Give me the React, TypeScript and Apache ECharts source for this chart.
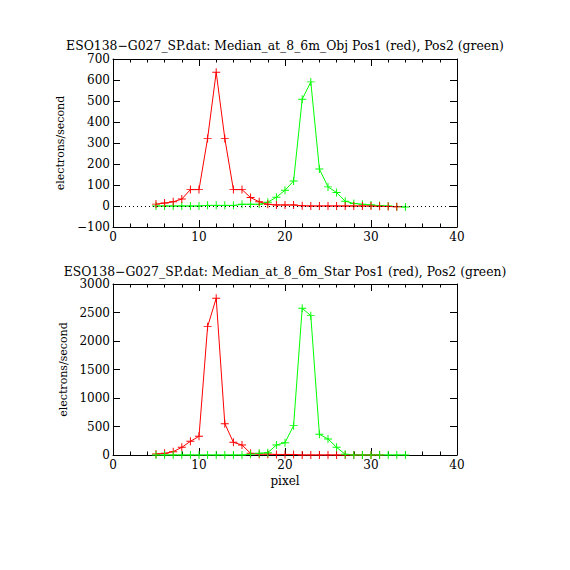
import React, { useEffect, useRef } from "react";
import * as echarts from "echarts";

const objRedX = [5, 6, 7, 8, 9, 10, 11, 12, 13, 14, 15, 16, 17, 18, 19, 20, 21, 22, 23, 24, 25, 26, 27, 28, 29, 30, 31, 32, 33];
const objRedY = [9, 14, 20, 33, 78, 78, 322, 637, 322, 78, 78, 40, 20, 8, 5, 5, 5, 1, 0, 0, 0, 0, 0, 0, 0, 0, -1, -2, -4];
const objGreenX = [5, 6, 7, 8, 9, 10, 11, 12, 13, 14, 15, 16, 17, 18, 19, 20, 21, 22, 23, 24, 25, 26, 27, 28, 29, 30, 31, 32, 33, 34];
const objGreenY = [0, 0, 0, 0, 0, 0, 3, 3, 3, 3, 8, 8, 8, 18, 42, 75, 119, 508, 591, 176, 91, 64, 23, 12, 8, 5, 2, 0, -3, -5];

const starRedX = [5, 6, 7, 8, 9, 10, 11, 12, 13, 14, 15, 16, 17, 18, 19, 20, 21, 22, 23, 24, 25, 26, 27, 28, 29, 30, 31];
const starRedY = [18, 29, 58, 135, 240, 328, 2252, 2750, 550, 222, 175, 29, 15, 15, 10, 10, 10, 0, 0, 0, 0, 0, 0, 0, 0, 0, 0];
const starGreenX = [5, 6, 7, 8, 9, 10, 11, 12, 13, 14, 15, 16, 17, 18, 19, 20, 21, 22, 23, 24, 25, 26, 27, 28, 29, 30, 31, 32, 33, 34];
const starGreenY = [0, 0, 0, 0, 0, 0, 0, 0, 0, 0, 0, 15, 29, 41, 175, 216, 515, 2574, 2445, 363, 281, 135, 12, 0, 0, 0, 0, 0, 0, 0];

const titles = [
  "ESO138\u2212G027_SP.dat: Median_at_8_6m_Obj Pos1 (red), Pos2 (green)",
  "ESO138\u2212G027_SP.dat: Median_at_8_6m_Star Pos1 (red), Pos2 (green)",
];
const xTitle = "pixel";
const yTitle = "electrons/second";

const FONT = "DejaVu Serif";
const PLUS = "path://M-0.6,-5H0.6V-0.6H5V0.6H0.6V5H-0.6V0.6H-5V-0.6H-0.6Z";

function pairs(xs: number[], ys: number[]) {
  return xs.map((x, i) => [x, ys[i]]);
}

const fmt = (v: number) => String(v).replace("-", "\u2212");

export default function App() {
  const ref = useRef<HTMLDivElement>(null);
  useEffect(() => {
    if (!ref.current) return;
    const chart = echarts.init(ref.current, null, { renderer: "svg" });
    const txt = { fontFamily: FONT, fontSize: 12, color: "#000" };
    const nameTxt = { fontFamily: FONT, fontSize: 11, color: "#000" };
    const ttl = { fontFamily: FONT, fontSize: 12.4, color: "#000", fontWeight: "normal" };
    const grids = [
      { left: 113, width: 344, top: 59, height: 168 },
      { left: 113, width: 344, top: 284, height: 171 },
    ];
    const xBase = (g: number, pos: "bottom" | "top") => ({
      type: "value",
      gridIndex: g,
      position: pos,
      min: 0,
      max: 40,
      interval: 10,
      axisLine: { show: true, onZero: false, lineStyle: { color: "#000", width: 1 } },
      axisTick: { show: true, inside: true, length: 7, lineStyle: { color: "#000" } },
      minorTick: { show: true, splitNumber: 5, length: 3.5, lineStyle: { color: "#000" } },
      splitLine: { show: false },
      axisLabel: pos === "bottom" ? { ...txt, margin: 4, formatter: fmt } : { show: false },
    });
    const yBase = (g: number, pos: "left" | "right", min: number, max: number, interval: number) => ({
      type: "value",
      gridIndex: g,
      position: pos,
      min,
      max,
      interval,
      axisLine: { show: true, onZero: false, lineStyle: { color: "#000", width: 1 } },
      axisTick: { show: true, inside: true, length: 7, lineStyle: { color: "#000" } },
      splitLine: { show: false },
      axisLabel: pos === "left" ? { ...txt, margin: 3, formatter: fmt } : { show: false },
    });
    const line = (name: string, color: string, data: number[][], xi: number, yi: number, extra: any = {}) => ({
      type: "line",
      name,
      xAxisIndex: xi,
      yAxisIndex: yi,
      data,
      symbol: PLUS,
      symbolSize: 8,
      showSymbol: true,
      itemStyle: { color },
      lineStyle: { color, width: 1 },
      silent: true,
      ...extra,
    });
    chart.setOption({
      animation: false,
      backgroundColor: "#fff",
      title: [
        { text: titles[0], left: "center", top: 34, textStyle: ttl },
        { text: titles[1], left: "center", top: 260, textStyle: ttl },
      ],
      grid: grids,
      xAxis: [
        xBase(0, "bottom"),
        xBase(0, "top"),
        { ...xBase(1, "bottom"), name: xTitle, nameLocation: "middle", nameGap: 20, nameTextStyle: txt },
        xBase(1, "top"),
      ],
      yAxis: [
        { ...yBase(0, "left", -100, 700, 100), name: yTitle, nameLocation: "middle", nameGap: 43, nameTextStyle: nameTxt },
        yBase(0, "right", -100, 700, 100),
        { ...yBase(1, "left", 0, 3000, 500), name: yTitle, nameLocation: "middle", nameGap: 43, nameTextStyle: nameTxt },
        yBase(1, "right", 0, 3000, 500),
      ],
      series: [
        line("Pos2", "#00ff00", pairs(objGreenX, objGreenY), 0, 0, {
          markLine: {
            silent: true,
            symbol: "none",
            label: { show: false },
            lineStyle: { color: "#000", type: [1, 3], width: 1 },
            data: [{ yAxis: 0 }],
          },
        }),
        line("Pos1", "#ff0000", pairs(objRedX, objRedY), 0, 0),
        line("Pos1", "#ff0000", pairs(starRedX, starRedY), 2, 2),
        line("Pos2", "#00ff00", pairs(starGreenX, starGreenY), 2, 2),
      ],
    });
    return () => chart.dispose();
  }, []);
  return (
    <div
      ref={ref}
      style={{ position: "fixed", left: 0, top: 0, width: 570, height: 570, background: "#fff" }}
    />
  );
}
